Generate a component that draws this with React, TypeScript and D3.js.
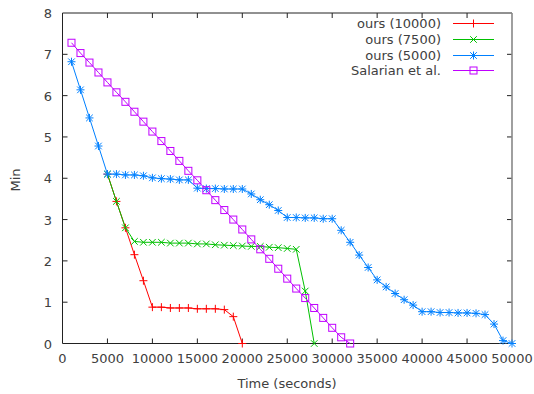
import { scaleLinear, line } from "d3";

const WIDTH = 534;
const HEIGHT = 394;
const M = { left: 62.5, right: 512, top: 13, bottom: 343.5 };

const times = [
  1000, 2000, 3000, 4000, 5000, 6000, 7000, 8000, 9000, 10000,
  11000, 12000, 13000, 14000, 15000, 16000, 17000, 18000, 19000, 20000,
  21000, 22000, 23000, 24000, 25000, 26000, 27000, 28000, 29000, 30000,
  31000, 32000, 33000, 34000, 35000, 36000, 37000, 38000, 39000, 40000,
  41000, 42000, 43000, 44000, 45000, 46000, 47000, 48000, 49000, 50000,
];

// ours (10000) and ours (7500) branch off the 5000 curve at t = 5000
const ours10000 = [4.1, 3.44, 2.8, 2.15, 1.52, 0.88, 0.88, 0.86, 0.86, 0.86, 0.84, 0.84, 0.84, 0.82, 0.65, 0];
const ours7500 = [
  4.1, 3.44, 2.8, 2.47, 2.45, 2.45, 2.45, 2.43, 2.43, 2.43,
  2.41, 2.41, 2.39, 2.38, 2.37, 2.36, 2.35, 2.35, 2.33, 2.32, 2.3, 2.28, 1.27, 0,
];
const ours5000 = [
  6.82, 6.14, 5.46, 4.78, 4.1, 4.1, 4.08, 4.08, 4.06, 4.01, 3.99, 3.98, 3.96, 3.96,
  3.76, 3.75, 3.75, 3.74, 3.74, 3.74, 3.62, 3.48, 3.36, 3.22, 3.05, 3.05, 3.04, 3.04,
  3.02, 3.02, 2.74, 2.45, 2.14, 1.84, 1.54, 1.37, 1.21, 1.06, 0.93, 0.77, 0.77, 0.75,
  0.75, 0.74, 0.74, 0.73, 0.7, 0.47, 0.07, 0,
];
const salarian = [
  7.28, 7.03, 6.8, 6.56, 6.32, 6.08, 5.85, 5.61, 5.37, 5.13, 4.9, 4.66, 4.42, 4.18,
  3.95, 3.71, 3.47, 3.23, 3.0, 2.76, 2.52, 2.28, 2.05, 1.81, 1.57, 1.33, 1.1, 0.86,
  0.62, 0.38, 0.15, 0,
];

const xTicks = [0, 5000, 10000, 15000, 20000, 25000, 30000, 35000, 40000, 45000, 50000];
const yTicks = [0, 1, 2, 3, 4, 5, 6, 7, 8];

const series = [
  { name: "ours (10000)", values: ours10000, start: 4, color: "#ff0000", marker: "plus" },
  { name: "ours (7500)", values: ours7500, start: 4, color: "#00c000", marker: "cross" },
  { name: "ours (5000)", values: ours5000, start: 0, color: "#0080ff", marker: "star" },
  { name: "Salarian et al.", values: salarian, start: 0, color: "#c000ff", marker: "square" },
];

const FONT = "'DejaVu Sans', sans-serif";
const TEXT = "#404040";

function Marker({ kind, x, y, color }: { kind: string; x: number; y: number; color: string }) {
  const s = 4;
  const d = 3.3;
  if (kind === "plus") return <path d={`M${x - s},${y}H${x + s}M${x},${y - s}V${y + s}`} stroke={color} strokeWidth={1} fill="none" />;
  if (kind === "cross") return <path d={`M${x - d},${y - d}L${x + d},${y + d}M${x - d},${y + d}L${x + d},${y - d}`} stroke={color} strokeWidth={1} fill="none" />;
  if (kind === "star")
    return (
      <path
        d={`M${x - s},${y}H${x + s}M${x},${y - s}V${y + s}M${x - d},${y - d}L${x + d},${y + d}M${x - d},${y + d}L${x + d},${y - d}`}
        stroke={color}
        strokeWidth={1}
        fill="none"
      />
    );
  return <rect x={x - 3.5} y={y - 3.5} width={7} height={7} stroke={color} strokeWidth={1} fill="none" />;
}

export default function App() {
  const x = scaleLinear().domain([0, 50000]).range([M.left, M.right]);
  const y = scaleLinear().domain([0, 8]).range([M.bottom, M.top]);

  return (
    <svg width={WIDTH} height={HEIGHT} style={{ position: "absolute", left: 0, top: 0, background: "#fff" }} fontFamily={FONT}>
      {/* ticks, mirrored on top and right */}
      {xTicks.slice(1, -1).map((t) => (
        <g key={`xt${t}`} stroke="#222" strokeWidth={1}>
          <line x1={x(t)} x2={x(t)} y1={M.bottom} y2={M.bottom - 5} />
          <line x1={x(t)} x2={x(t)} y1={M.top} y2={M.top + 5} />
        </g>
      ))}
      {yTicks.slice(1, -1).map((t) => (
        <g key={`yt${t}`} stroke="#222" strokeWidth={1}>
          <line x1={M.left} x2={M.left + 5} y1={y(t)} y2={y(t)} />
          <line x1={M.right} x2={M.right - 5} y1={y(t)} y2={y(t)} />
        </g>
      ))}
      <path d={`M${M.right},${M.top}H${M.left}V${M.bottom}H${M.right}`} fill="none" stroke="#222" strokeWidth={1} />
      <line x1={M.right} x2={M.right} y1={M.top} y2={M.bottom} stroke="#888" strokeWidth={1.6} />

      {xTicks.map((t) => (
        <text key={`xl${t}`} x={x(t)} y={363} textAnchor="middle" fontSize={13} fill={TEXT}>
          {t}
        </text>
      ))}
      {yTicks.map((t) => (
        <text key={`yl${t}`} x={52} y={y(t) + 5} textAnchor="end" fontSize={13} fill={TEXT}>
          {t}
        </text>
      ))}
      <text x={287} y={388} textAnchor="middle" fontSize={13} fill={TEXT}>
        Time (seconds)
      </text>
      <text transform="translate(20,180) rotate(-90)" textAnchor="middle" fontSize={13} fill={TEXT}>
        Min
      </text>

      {series.map((s) => {
        const path = line<number>()
          .x((_, i) => x(times[s.start + i]))
          .y((v) => y(v));
        return (
          <g key={s.name}>
            <path d={path(s.values) ?? ""} fill="none" stroke={s.color} strokeWidth={1} />
            {s.values.map((v, i) => (
              <Marker key={i} kind={s.marker} x={x(times[s.start + i])} y={y(v)} color={s.color} />
            ))}
          </g>
        );
      })}

      {series.map((s, i) => {
        const ly = Math.round(23 + i * 15.8) + 0.5;
        return (
          <g key={`lg${s.name}`}>
            <text x={441} y={ly + 4.5} textAnchor="end" fontSize={13} fill={TEXT}>
              {s.name}
            </text>
            <line x1={453} x2={494} y1={ly} y2={ly} stroke={s.color} strokeWidth={1} />
            <Marker kind={s.marker} x={473.5} y={ly} color={s.color} />
          </g>
        );
      })}
    </svg>
  );
}
